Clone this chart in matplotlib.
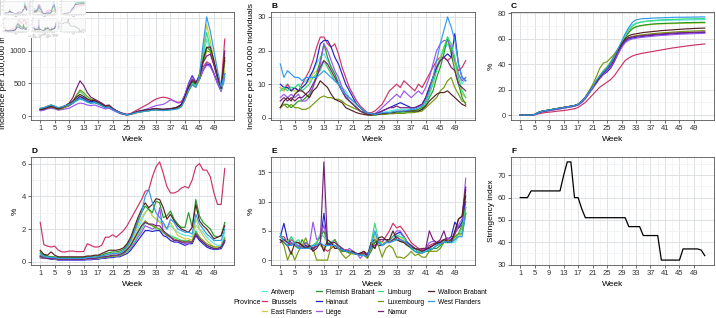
import matplotlib
matplotlib.use('Agg')
from matplotlib import pyplot as plt
import numpy as np

plt.rcParams['font.family'] = ['Liberation Sans', 'DejaVu Sans']

weeks = np.arange(1, 53)
week_ticks = list(range(1, 50, 4))

provinces = ['Antwerp', 'Brussels', 'East Flanders', 'Flemish Brabant', 'Hainaut', 'Liège',
             'Limburg', 'Luxembourg', 'Namur', 'Walloon Brabant', 'West Flanders']
colors = ['#5ee3e8', '#cc3366', '#cccc44', '#229922', '#2222cc', '#9955ee',
          '#33dd77', '#779911', '#772277', '#552222', '#3399ee']

# A: cases per 100,000 (rows follow provinces order)
cases = [
    [110,120,140,160,140,120,130,150,170,190,230,260,240,210,190,200,180,160,130,140,100,70,45,30,20,30,45,60,70,80,85,95,100,95,90,95,100,110,120,150,260,400,520,480,620,900,1180,1000,800,600,400,550],
    [100,110,130,140,130,110,120,140,160,200,250,300,280,240,220,210,190,170,150,140,110,80,60,40,25,40,70,100,130,160,190,230,260,280,290,280,260,230,210,220,320,430,500,470,600,750,830,800,650,520,450,1180],
    [120,130,150,170,150,130,140,160,180,200,250,290,260,230,210,220,200,170,140,150,110,80,50,30,20,30,50,65,75,85,90,100,105,100,95,100,105,115,130,160,280,420,500,460,650,1000,1400,1150,850,600,420,700],
    [110,120,150,170,150,120,140,160,180,210,240,270,250,220,200,210,190,160,130,140,100,75,50,30,20,30,45,60,70,80,85,95,100,95,95,100,105,115,125,160,270,420,520,480,640,880,1060,1000,800,580,400,850],
    [90,100,120,140,120,110,120,140,160,200,260,300,270,230,220,230,210,180,150,150,110,80,50,30,20,30,50,70,80,90,95,105,110,100,100,105,110,120,140,180,330,500,620,520,560,700,800,780,650,500,380,650],
    [80,90,110,120,110,90,100,110,120,150,180,200,190,170,160,170,150,130,110,120,90,65,40,25,15,25,45,65,80,100,120,140,160,170,180,210,250,230,200,210,330,480,600,500,560,700,780,760,640,500,380,600],
    [100,110,130,150,130,110,120,150,170,200,300,380,330,270,240,240,210,180,140,150,110,80,50,30,20,30,45,60,70,80,85,95,100,90,85,90,95,105,115,150,260,400,500,470,640,950,1280,1050,820,580,400,650],
    [100,110,120,140,120,100,110,140,170,220,320,400,360,300,260,250,220,190,150,150,110,80,50,30,20,25,40,55,65,75,80,90,95,90,85,90,100,110,120,150,250,380,480,440,560,820,1000,980,800,600,430,850],
    [100,110,130,150,130,110,130,160,200,280,420,540,470,360,290,260,230,200,160,170,120,85,55,35,25,35,55,75,85,95,100,110,115,110,105,110,115,125,140,180,300,450,560,520,600,820,920,950,780,580,420,1000],
    [100,110,130,150,130,110,130,160,190,230,290,330,300,260,240,240,210,180,150,160,115,80,50,30,20,30,50,70,80,90,95,105,110,105,100,105,110,120,135,170,290,440,540,500,620,850,1050,1060,850,620,430,900],
    [120,130,150,170,150,130,140,160,180,200,240,270,250,220,200,210,190,160,130,140,100,75,50,30,20,30,45,60,65,75,80,90,95,90,85,90,95,100,110,140,250,400,480,440,620,1100,1520,1300,1000,700,450,650],
]

# B: hospitalisations per 100,000
hosp = [
    [8,9,10,9,9,10,10,11,12,14,16,18,19,17,15,13,11,9,8,6,5,4,3,2,1.5,1.2,1,1.2,1.5,1.8,2,2.2,2.5,2.5,2.5,2.5,2.8,3,3,4,6,9,12,15,18,20,22,20,17,13,10,12],
    [9,8,10,8,9,8,10,12,14,17,21,24,24,22,21,22,19,15,12,9,7,5,3.5,2.5,1.5,1.5,2,3,4,6,8,9,10,9,11,10,9,8,10,9,11,13,15,17,18,18,17,18,17,14,15,17],
    [9,8,9,8,8,8,9,10,11,13,14,16,17,15,13,11,10,8,7,6,5,4,3,2,1.5,1,1,1,1.2,1.5,1.5,1.8,2,2,1.8,2,2,2.2,2.5,3,5,8,11,15,18,21,23,20,16,11,7,6],
    [3,4,4,3,4,5,5,6,7,9,13,17,22,18,15,13,10,8,6,5,4,3,2,1.5,1,0.8,0.8,1,1,1.2,1.3,1.5,1.5,1.8,1.8,2,2,2.2,2.5,3,4,6,8,12,15,19,24,19,14,10,6,4],
    [10,9,9,8,9,8,9,10,12,14,17,22,23,23,21,18,16,13,10,8,6,4,3,2,1.5,1,1,1.5,2,2.5,3,3.5,4,4.5,4,3.5,3,3,3.5,4,6,9,12,15,17,18,19,18,25,16,12,11],
    [6,7,6,7,6,7,5,5,6,9,12,16,22,20,17,14,12,9,7,5,4,3,2,1.5,1,1,1.2,2,3,4,5,6,7,6,8,7,6,7,8,7,9,12,16,20,22,23,23,21,17,13,11,12],
    [8,9,8,9,9,10,8,9,10,12,13,14,17,15,13,11,10,8,6,5,4,3,2,1.5,1,1,0.8,1,1,1.2,1.3,1.5,1.6,1.5,1.5,1.6,1.8,2,2,2.5,4,7,10,14,17,21,24,22,18,12,8,6],
    [3,4,3,4,3,3,2.5,2.5,3,4,5,6,6.5,6,6,5.5,5.5,5,4,3.5,3,2.5,2,1.5,1,0.8,0.8,1,1,1,1.2,1.2,1.3,1.3,1.3,1.5,1.5,1.6,1.8,2,3,4,5,6,8,9,11,12,9,7,5,4.5],
    [5,6,5,6,5,6,6,7,8,10,12,15,17,16,14,12,10,8,6,5,4,3,2,1.5,1,1,1.2,1.5,2,2.5,3,3,3.5,3,3,3,3,3,3.5,4,6,9,12,15,17,18,17,15,14,10,9,8],
    [3,5,6,5,7,8,8,7,6,8,9,11,10,9,7,5.5,5,4.5,3,2.5,2,1.5,1.2,1,0.8,0.8,1,1,1.2,1.3,1.5,1.5,1.8,1.8,2,2,2,2,2,2.5,3.5,5,6,7,7.5,7.5,8,7,6,5,4,3.5],
    [16,12,14,13,12,12,11,12,12,12,12,13,14,13,12,11,10,8,7,6,5,4,3,2,1.5,1.2,1,1.2,1.5,1.5,1.5,1.8,2,2,2,2.2,2.5,2.5,3,3.5,5,8,12,17,22,26,30,27,23,16,12,11],
]

# C: cumulative %
vacc = [
    [0,0,0,0,0.5,2,3,3.5,4,4.5,5,5.5,6,6.5,7,7.5,8.5,11,14,18,22,26,30,33,36,40,45,51,57,63,68,71,72.5,73,73.5,73.8,74,74.2,74.3,74.4,74.5,74.6,74.7,74.8,74.8,74.9,75,75,75,75.1,75.1,75.2],
    [0,0,0,0,0.2,1,1.5,2,2.3,2.6,3,3.3,3.6,4,4.5,5,6,8,10,13,16,19,22,24,26,28,31,35,39,43,45,46.5,47.5,48.2,48.8,49.3,49.8,50.3,50.8,51.3,51.8,52.3,52.8,53.2,53.6,54,54.4,54.8,55.1,55.4,55.7,56],
    [0,0,0,0,0.5,2,3,3.5,4,4.5,5,5.5,6,6.5,7,7.5,8.5,11,14,18,22,27,31,35,38,42,47,52,57,62,66,68.5,69.5,70,70.5,71,71.2,71.4,71.6,71.8,71.9,72,72,72.1,72.2,72.3,72.3,72.4,72.4,72.5,72.5,72.5],
    [0,0,0,0,0.5,2,3,3.5,4,4.5,5,5.5,6,6.5,7,7.5,8.5,11,14,18,22,27,31,34,37,41,46,51,56,61,65,68,69.5,70.3,70.8,71.2,71.5,71.8,72,72.1,72.2,72.3,72.4,72.5,72.6,72.7,72.8,72.8,72.9,72.9,73,73],
    [0,0,0,0,0.3,1.5,2.5,3,3.5,4,4.5,5,5.5,6,6.5,7,8,10,13,17,21,25,29,32,34,37,42,48,54,58,60,60.7,61.2,61.6,62,62.3,62.6,62.9,63.1,63.3,63.5,63.7,63.9,64.1,64.3,64.4,64.5,64.6,64.7,64.8,64.9,65],
    [0,0,0,0,0.3,1.5,2.5,3,3.5,4,4.5,5,5.5,6,6.5,7,8,10,13,17,21,25,29,32,35,38,43,48,53,57,59,60,60.5,61,61.3,61.6,61.9,62.2,62.5,62.7,62.9,63.1,63.3,63.5,63.7,63.8,63.9,64,64.1,64.2,64.3,64.5],
    [0,0,0,0,0.5,2,3,3.5,4,4.5,5,5.5,6,6.5,7,7.5,8.5,11,14,18,22,27,31,35,38,42,47,52,57,62,67,70,72,73,73.5,74,74.3,74.5,74.8,75,75.1,75.2,75.3,75.4,75.5,75.6,75.7,75.8,75.8,75.9,75.9,76],
    [0,0,0,0,0.5,2,3,3.5,4,4.5,5,5.5,6,6.5,7,7.5,8.5,11,14,19,24,30,37,41,42,45,48,52,56,59,61,62,62.5,63,63.3,63.6,63.9,64.2,64.5,64.7,64.9,65.1,65.3,65.5,65.7,65.9,66,66.1,66.2,66.3,66.4,66.5],
    [0,0,0,0,0.5,2,3,3.5,4,4.5,5,5.5,6,6.5,7,7.5,8.5,11,14,18,22,26,30,33,36,39,44,50,55,59,61,61.5,62,62.3,62.6,62.9,63.2,63.5,63.7,63.9,64.1,64.3,64.5,64.7,64.8,64.9,65,65.1,65.2,65.3,65.4,65.5],
    [0,0,0,0,0.5,2,3,3.5,4,4.5,5,5.5,6,6.5,7,7.5,8.5,11,14,18,22,26,30,34,37,41,46,51,56,60,62.5,63.5,64,64.5,65,65.3,65.6,65.9,66.2,66.5,66.7,66.9,67.1,67.3,67.5,67.7,67.9,68,68.2,68.3,68.4,68.5],
    [0,0,0,0,0.5,2,3,3.5,4,4.5,5,5.5,6,6.5,7,7.5,8.5,11,14,18,22,27,31,34,37,41,46,52,58,64,69,73,75,75.5,76,76,76.2,76.4,76.5,76.6,76.7,76.8,76.9,77,77,77,77.1,77.1,77.2,77.2,77.3,77.3],
]

# D: %
pct_d = [
    [0.4,0.3,0.3,0.3,0.25,0.2,0.2,0.2,0.2,0.2,0.2,0.2,0.2,0.25,0.25,0.3,0.3,0.35,0.4,0.45,0.5,0.5,0.55,0.6,0.8,1.1,1.5,2.0,2.5,3.0,3.3,2.8,2.6,2.5,2.3,2.0,2.2,2.0,1.8,1.7,1.6,1.6,1.5,2.2,2.0,1.8,1.5,1.3,1.1,1.0,1.0,1.8],
    [2.4,1.05,0.95,0.9,0.95,0.7,0.6,0.6,0.65,0.65,0.62,0.62,0.62,1.1,1.0,0.9,0.9,1.0,1.5,1.5,1.65,1.5,1.7,1.9,2.2,2.6,3.0,3.4,3.8,4.3,4.4,5.2,5.8,6.1,5.4,4.6,4.2,4.2,4.3,4.5,4.6,4.5,5.0,5.8,6.0,5.6,5.6,5.2,4.2,3.5,3.5,5.7],
    [0.5,0.3,0.3,0.3,0.25,0.2,0.2,0.2,0.2,0.2,0.2,0.2,0.2,0.25,0.25,0.3,0.3,0.35,0.4,0.45,0.5,0.5,0.55,0.6,0.8,1.2,1.6,2.2,2.7,3.0,3.2,2.8,2.6,2.4,2.2,2.0,2.4,2.0,1.6,1.5,1.4,1.4,1.3,2.6,2.0,1.6,1.3,1.1,0.9,0.8,0.8,1.4],
    [0.6,0.4,0.35,0.3,0.3,0.25,0.25,0.25,0.25,0.25,0.25,0.25,0.25,0.3,0.3,0.35,0.35,0.4,0.5,0.55,0.6,0.6,0.65,0.75,1.0,1.4,1.9,2.5,3.0,3.4,3.2,3.0,3.7,3.6,2.7,2.8,3.1,2.6,2.3,2.1,2.1,3.0,2.1,3.8,2.8,2.4,2.2,2.0,1.6,1.5,1.6,2.4],
    [0.25,0.2,0.2,0.15,0.15,0.1,0.1,0.1,0.1,0.1,0.1,0.1,0.1,0.12,0.12,0.15,0.15,0.2,0.2,0.25,0.25,0.3,0.3,0.4,0.5,0.7,1.0,1.3,1.6,1.9,1.9,1.85,1.9,1.9,1.6,1.5,1.3,1.2,1.2,1.1,1.0,1.1,1.1,1.6,1.3,1.1,0.9,0.8,0.75,0.75,0.8,1.2],
    [0.3,0.2,0.2,0.2,0.15,0.15,0.12,0.12,0.12,0.12,0.12,0.12,0.12,0.15,0.15,0.18,0.2,0.22,0.25,0.3,0.3,0.35,0.35,0.45,0.6,0.8,1.1,1.5,1.8,2.2,2.1,2.0,2.1,3.3,1.8,1.6,1.5,1.3,1.3,1.2,1.1,1.1,1.2,1.8,1.4,1.2,1.0,0.9,0.8,0.8,0.9,1.3],
    [0.4,0.3,0.25,0.2,0.2,0.15,0.15,0.15,0.15,0.15,0.15,0.15,0.15,0.2,0.2,0.2,0.2,0.25,0.3,0.3,0.35,0.35,0.4,0.5,0.6,0.9,1.2,1.6,2.0,2.4,2.3,2.2,2.0,2.0,1.8,1.7,1.6,1.5,1.4,1.3,1.3,1.2,1.2,1.9,1.5,1.2,1.0,0.9,0.8,0.8,0.9,1.5],
    [0.3,0.25,0.2,0.2,0.2,0.15,0.15,0.15,0.15,0.15,0.15,0.15,0.15,0.2,0.2,0.2,0.25,0.25,0.3,0.3,0.35,0.35,0.4,0.5,0.7,1.0,1.4,1.8,2.2,2.5,2.3,2.2,2.1,2.0,1.8,1.6,1.5,1.4,1.3,1.3,1.2,1.3,1.2,1.8,1.5,1.3,1.1,1.0,0.9,0.9,0.9,1.4],
    [0.35,0.25,0.2,0.2,0.2,0.15,0.15,0.15,0.15,0.15,0.15,0.15,0.15,0.2,0.2,0.2,0.25,0.3,0.3,0.35,0.4,0.4,0.45,0.55,0.75,1.0,1.4,1.8,2.2,2.4,2.3,2.3,2.2,2.2,1.9,1.7,1.5,1.3,1.3,1.2,1.2,1.2,1.2,1.7,1.4,1.2,1.0,0.9,0.8,0.8,0.9,1.3],
    [0.7,0.45,0.4,0.6,0.4,0.3,0.3,0.3,0.3,0.3,0.3,0.3,0.3,0.35,0.35,0.4,0.4,0.5,0.6,0.7,0.7,0.7,0.75,0.85,1.1,1.5,2.1,2.7,3.2,3.6,3.3,3.5,3.85,3.8,3.3,2.6,2.9,2.5,2.2,2.0,1.9,1.8,2.1,3.5,2.5,2.2,2.0,1.7,1.4,1.5,1.6,2.2],
    [0.5,0.3,0.3,0.25,0.25,0.2,0.2,0.2,0.2,0.2,0.2,0.2,0.2,0.25,0.25,0.3,0.3,0.35,0.4,0.45,0.5,0.5,0.55,0.65,0.9,1.3,1.8,2.4,3.0,4.0,4.4,3.6,3.0,2.7,2.4,2.0,2.6,2.4,2.0,1.9,1.8,1.8,1.7,2.9,2.3,2.0,1.7,1.5,1.3,1.3,1.3,2.0],
]

# E: %
pct_e = [
    [4,3.5,3,4,3,2.5,2,2.5,2,2,3,2.5,2,2.5,3,2.5,2,2,1.5,1.5,1,1,0.8,0.8,0.8,2,4.5,3,2.5,3,3.5,3.5,4,4.5,4,3,2.5,1.5,1.2,1.3,1.5,1.8,2,2.5,2.8,3,3.5,3,3,4,5,9],
    [4,4,3,3.5,3,3,2.5,3,2.5,2,2.5,3,2,1.5,2,2.5,2,1.5,1.8,1.5,1.2,1,1,1.2,0.8,2.5,3,3.5,3,4,5,6.3,5.5,5.8,5,4,3,2.5,2,1.8,2,2.5,2.8,3,3.2,3.5,3.8,3.5,4.5,5.5,6,10],
    [3.5,3,3.5,3,2.5,2,2.5,3,2,2,3,2.5,2,3,2.5,2,2,1.5,1.5,1.2,1,1.2,0.8,0.8,0.6,2.5,4,3,3,3,3.2,3.5,3.5,3.8,3.5,3,2,1.5,1.2,1.2,1.5,1.8,2,2.5,3,3,3.2,3,3.5,4,4.5,8],
    [3.5,3,2.5,3,2.5,2,3.5,2.5,2,2.5,3,4,5,3,2.5,2.5,2,1.5,1.5,1.2,1.2,1,0.8,0.8,0.5,1.5,3,3.5,2.5,3,3,3.5,3.5,3.2,3,2.5,2,1.5,1.3,1.2,1.5,1.5,2,2,2.5,3,3,3.5,4,4.5,6,9],
    [4,6.3,3.5,3,2.5,2.5,2,2.5,2,1.8,2.5,3,8,3,2.5,2.5,2,2,1.5,1.5,1.2,1,1,1,0.8,3,3.5,2.5,2.5,3,3.5,4,4.5,4.8,4,3,2.5,2,1.5,1.5,1.8,2,2.5,2.8,3,3.5,3.5,4,6.5,5.5,6.5,11],
    [4,3.5,3,3,2.5,2.5,2,3,2.5,6.5,3.5,4,6,3,3,3.5,2.5,2,1.5,2,1.5,1.2,0.3,1,1,2.5,2.5,3,2.5,3,3.5,4,5,5,4,3,2.5,2,1.5,1.5,2,3,3.2,3,3,3.5,3.8,3.5,4.5,6,7,14],
    [4,3.5,3,4,3,3.5,2.5,2,2.5,2.5,3,4.5,4,3,3,3.5,2.5,2,1.5,1.5,1.2,1,1,0.8,0.6,3,6.3,3.5,2.5,3,3.5,4,4.2,4,3.8,3,2.5,2,1.5,1.3,1.5,1.8,2,2.5,2.8,3.2,3,3,3.5,4.5,5.5,9],
    [3.5,2.5,0,1.5,0,1.5,2.5,3.8,2,2,0,0,0,0,2.5,3.5,2,1,0.3,0.8,1.5,1,1.2,0.8,0.3,2,3.5,2.5,0.5,2,2.5,2,0.5,0.5,0.3,0.8,1.5,0.8,1,0.5,0.5,1.5,1.5,1.5,2,3,3.5,3,4,4.5,4.5,8],
    [3,3.5,3,2.5,3,3,2.5,2,2.5,2,2.5,3,16.8,2.5,3,3,2.5,2,1.5,1.5,1.2,1,1,1.5,1,2.5,2,3.5,3.5,3.5,3,3.5,4,3.5,3.2,3,2.5,2,1.8,2,2,5,3.5,3,3.5,5,3,3.5,4.5,7,7.5,12.5],
    [3.5,3,2.5,1,3,3,2.5,2,2.5,1.5,2,3,1.5,3.5,3,2,2,1.8,1.5,1.5,1.5,1,1.2,1.5,0.5,3,2,3.8,4,3.5,3.5,5,3.5,3.2,3,2.5,2.2,2,1.8,1.5,1.8,2.2,2.5,3,3,3.5,3.2,3,5,7,7.5,12],
    [4.5,3,2.5,2.5,3,2,2,2,2,2.5,2.5,3,2.5,2.5,2.5,2.5,2,1.8,1.5,1.5,1.2,1,0.8,0.8,0.6,2.5,5,3,2.5,3,3,3.2,3.5,3.5,3.2,2.8,2.2,1.5,1.2,1.2,1.5,1.8,2,2.5,2.8,3,3.2,3,3.5,4,4,8],
]

# F: stringency index (national)
stringency = [60,60,60,63,63,63,63,63,63,63,63,63,70,76,76,60,60,55,51,51,51,51,51,51,51,51,51,51,51,51,
              47,47,47,47,43,43,43,43,43,32,32,32,32,32,32,37,37,37,37,37,36.5,34]

W, H = 716, 318
fig = plt.figure(figsize=(W / 100, H / 100), dpi=100)

cols = [(31, 234), (271, 475), (511, 714)]
rows = [(12, 120), (157, 265)]


def make_ax(col, row, letter):
    x0, x1 = cols[col]
    y0, y1 = rows[row]
    ax = fig.add_axes([x0 / W, 1 - y1 / H, (x1 - x0) / W, (y1 - y0) / H])
    ax.set_xlim(-1.55, 54.55)
    ax.set_xticks(week_ticks)
    ax.set_xticks(list(range(-1, 54, 4)), minor=True)
    ax.grid(which='major', color='#d9dde0', linewidth=0.6)
    ax.grid(which='minor', color='#eceef0', linewidth=0.45)
    ax.set_axisbelow(True)
    for s in ax.spines.values():
        s.set_color('#555555')
        s.set_linewidth(0.6)
    ax.tick_params(which='major', length=2, width=0.5, color='#333333', labelsize=5.5,
                   labelcolor='#333333', pad=1.5)
    ax.tick_params(which='minor', length=0)
    ax.set_xlabel('Week', fontsize=6, labelpad=3)
    ax.text(0, 1.02, letter, transform=ax.transAxes, fontsize=6, fontweight='bold',
            va='bottom', ha='left')
    return ax


def set_y(ax, series, major, minor):
    lo = np.min(series)
    hi = np.max(series)
    pad = (hi - lo) * 0.05
    ax.set_ylim(lo - pad, hi + pad)
    ax.set_yticks(major)
    ax.set_yticks(minor, minor=True)


panels = [
    (0, 0, 'A', cases, 'Incidence per 100,000 individuals', [0, 500, 1000, 1500], [250, 750, 1250]),
    (1, 0, 'B', hosp, 'Incidence per 100,000 individuals', [0, 10, 20, 30], [5, 15, 25]),
    (2, 0, 'C', vacc, '%', [0, 20, 40, 60, 80], [10, 30, 50, 70]),
    (0, 1, 'D', pct_d, '%', [0, 2, 4, 6], [1, 3, 5]),
    (1, 1, 'E', pct_e, '%', [0, 5, 10, 15], [2.5, 7.5, 12.5]),
]

for col, row, letter, data, ylab, major, minor in panels:
    ax = make_ax(col, row, letter)
    for name, c, vals in zip(provinces, colors, data):
        ax.plot(weeks, vals, color=c, linewidth=0.85, label=name)
    set_y(ax, data, major, minor)
    ax.set_ylabel(ylab, fontsize=6, labelpad=2)

axf = make_ax(2, 1, 'F')
axf.plot(weeks, stringency, color='black', linewidth=0.9)
set_y(axf, stringency, [30, 40, 50, 60, 70], [35, 45, 55, 65, 75])
axf.set_ylabel('Stringency index', fontsize=6, labelpad=2)

handles = [plt.Line2D([], [], color=c, linewidth=0.9) for c in colors]
fig.legend(handles, provinces, ncol=4, loc='center left', bbox_to_anchor=(262 / W, 1 - 302 / H),
           frameon=False, fontsize=4.8, handlelength=0.8, handletextpad=0.6,
           columnspacing=0.6, labelspacing=0.45, borderpad=0, borderaxespad=0)
fig.text(233 / W, 1 - 303 / H, 'Province', fontsize=5, va='center', ha='left')

# small snapshot of the whole figure pasted in the top-left corner
fig.canvas.draw()
snap = np.asarray(fig.canvas.buffer_rgba()).copy()
thumb = fig.add_axes([0, 1 - 38 / H, 86 / W, 38 / H])
thumb.imshow(snap, aspect='auto', interpolation='antialiased')
thumb.axis('off')

fig.savefig('out.png', dpi=100)
